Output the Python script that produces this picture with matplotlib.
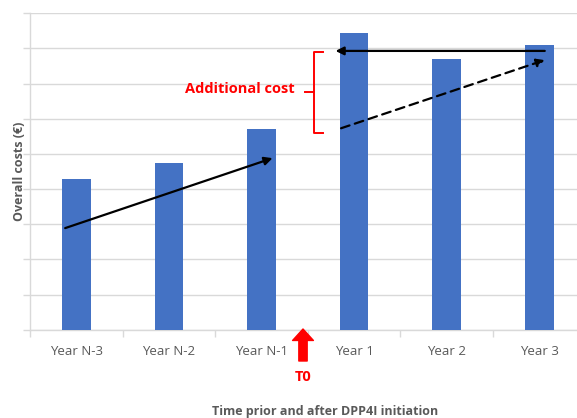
import matplotlib
matplotlib.use("Agg")
import matplotlib.pyplot as plt

# Overall costs per year around DPP4I initiation (arbitrary units, no tick labels)
years = ["Year N-3", "Year N-2", "Year N-1", "Year 1", "Year 2", "Year 3"]
costs = [4.30, 4.75, 5.70, 8.43, 7.69, 8.09]

BAR = "#4472C4"
GRID = "#d9d9d9"
TXT = "#595959"
RED = "#ff0000"

plt.rcParams["font.family"] = ["Open Sans", "DejaVu Sans"]

fig = plt.figure(figsize=(5.77, 4.18), dpi=100)
ax = fig.add_axes([30 / 577, 88.3 / 418, 555.5 / 577, 316.4 / 418])

x = list(range(len(years)))
ax.bar(x, costs, width=0.31, color=BAR, zorder=3)

ax.set_xlim(-0.5, 5.5)
ax.set_ylim(0, 9)
ax.set_yticks(range(0, 10))
ax.set_yticklabels([])
ax.grid(axis="y", color=GRID, linewidth=1.0, zorder=0)
ax.tick_params(axis="y", length=5, color=GRID, width=1)

ax.set_xticks(x)
ax.set_xticklabels(years, color=TXT, fontsize=9.5)
ax.tick_params(axis="x", which="major", length=0, pad=11)
ax.set_xticks([i - 0.5 for i in range(7)], minor=True)
ax.tick_params(axis="x", which="minor", length=5, color=GRID, width=1)

for side in ("top", "right"):
    ax.spines[side].set_visible(False)
for side in ("left", "bottom"):
    ax.spines[side].set_color(GRID)
    ax.spines[side].set_linewidth(1.0)

fig.text(20 / 577, 1 - 171 / 418, "Overall costs (€)", rotation=90, color=TXT,
         fontsize=9, fontweight="bold", ha="center", va="center")
fig.text(325 / 577, 1 - 411.7 / 418, "Time prior and after DPP4I initiation",
         ha="center", va="center", color=TXT, fontsize=9, fontweight="bold")

# trend before initiation
ax.annotate("", xy=(2.12, 4.88), xytext=(-0.12, 2.89),
            arrowprops=dict(arrowstyle="-|>", color="black", lw=1.6, mutation_scale=12,
                            shrinkA=0, shrinkB=0), zorder=5)
# expected trend after initiation
ax.annotate("", xy=(5.06, 7.67), xytext=(2.86, 5.73),
            arrowprops=dict(arrowstyle="-|>", color="black", lw=1.6, ls=(0, (4, 2.5)),
                            mutation_scale=12, shrinkA=0, shrinkB=0), zorder=5)
# observed level after initiation
ax.annotate("", xy=(2.8, 7.93), xytext=(5.06, 7.93),
            arrowprops=dict(arrowstyle="-|>", color="black", lw=1.6, mutation_scale=12,
                            shrinkA=0, shrinkB=0), zorder=5)

# red brace marking the additional cost
bx, bhook, btip = 2.57, 2.66, 2.47
btop, bbot, bmid = 7.91, 5.59, 6.77
ax.plot([bhook, bx, bx, btip], [btop, btop, bmid, bmid], color=RED, lw=1.4,
        solid_joinstyle="round", zorder=5, clip_on=False)
ax.plot([bx, bx, bhook], [bmid, bbot, bbot], color=RED, lw=1.4,
        solid_joinstyle="round", zorder=5, clip_on=False)
ax.text(2.36, 6.85, "Additional cost", color=RED, fontsize=10.5, fontweight="bold",
        ha="right", va="center")

# T0 marker under the axis
ax.annotate("", xy=(303, 418 - 329), xycoords="figure pixels",
            xytext=(303, 418 - 361), textcoords="figure pixels",
            arrowprops=dict(arrowstyle="simple,head_length=0.55,head_width=1.0,tail_width=0.4",
                            color=RED, mutation_scale=15, shrinkA=0, shrinkB=0))
fig.text(303 / 577, 1 - 377 / 418, "T0", color=RED, fontsize=10.5, fontweight="bold",
         ha="center", va="center")

fig.savefig("out.png", dpi=100)
